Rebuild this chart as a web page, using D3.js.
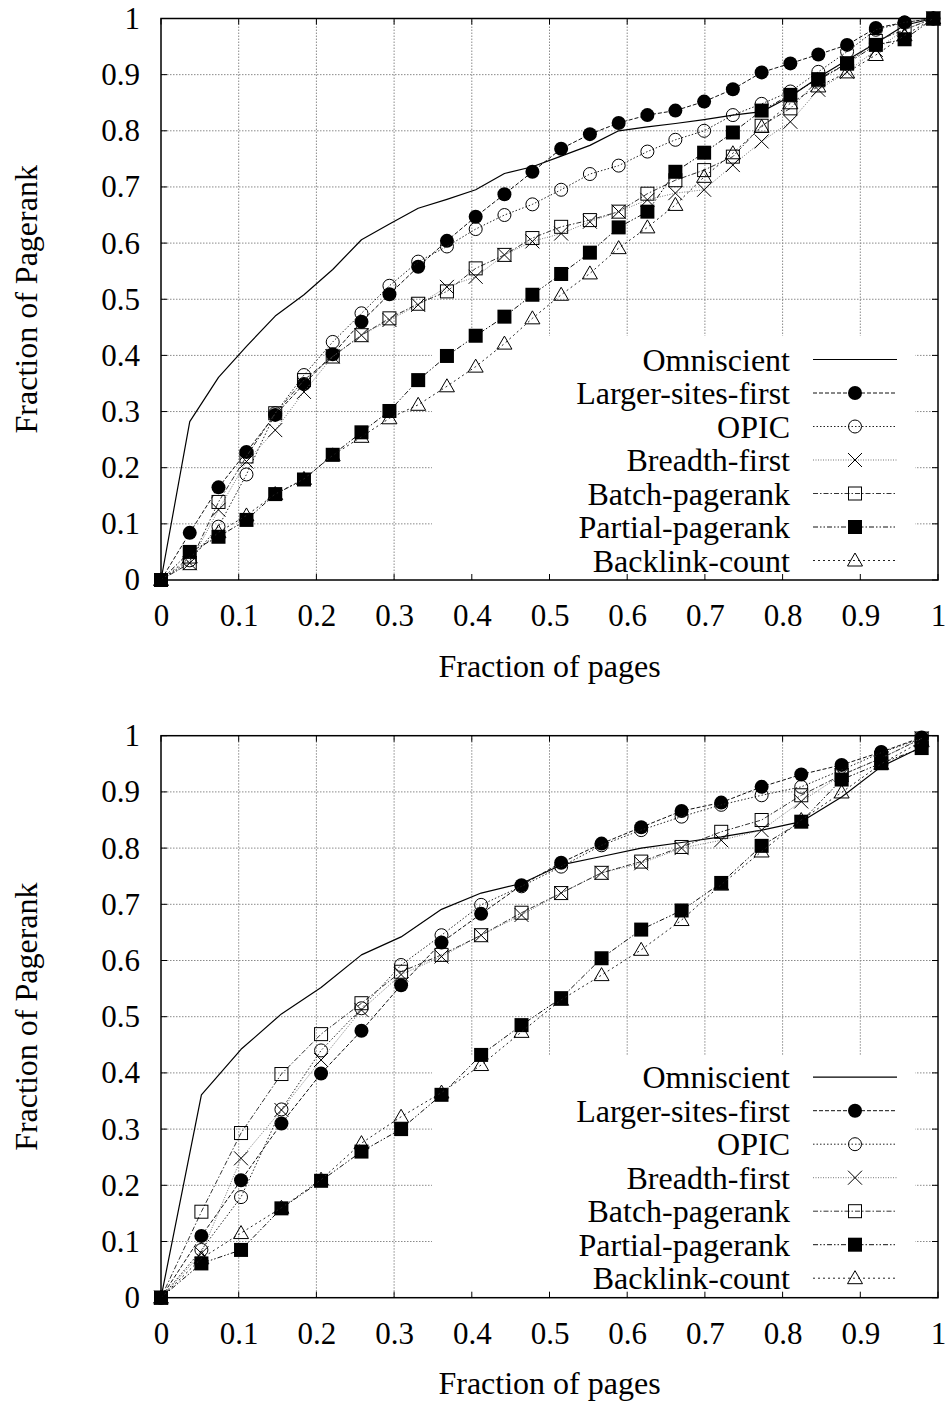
<!DOCTYPE html>
<html>
<head>
<meta charset="utf-8">
<script src="https://cdn.jsdelivr.net/npm/d3@7"></script>
<style>
  html, body { margin: 0; padding: 0; background: #fff; }
  svg { display: block; }
  text { font-family: "Liberation Serif", "Times New Roman", serif; fill: #000; }
</style>
</head>
<body>
<svg id="chart" width="951" height="1402"></svg>
<script>
// ---------------- data ----------------
const seriesNames = ["Omniscient", "Larger-sites-first", "OPIC", "Breadth-first",
                     "Batch-pagerank", "Partial-pagerank", "Backlink-count"];
const tickValues = [0, 0.1, 0.2, 0.3, 0.4, 0.5, 0.6, 0.7, 0.8, 0.9, 1];
const tickLabels = ["0", "0.1", "0.2", "0.3", "0.4", "0.5", "0.6", "0.7", "0.8", "0.9", "1"];
const xTitle = "Fraction of pages";
const yTitle = "Fraction of Pagerank";

// top chart
const topX = [0, 0.037, 0.074, 0.110, 0.147, 0.184, 0.221, 0.258, 0.294, 0.331, 0.368, 0.405, 0.442, 0.478,
              0.515, 0.552, 0.589, 0.626, 0.662, 0.699, 0.736, 0.773, 0.810, 0.846, 0.883, 0.920, 0.957, 0.994];
const topOmniscient = [0, .282, .361, .416, .470, .508, .553, .606, .634, .662, .678, .695, .724, .736,
                       .755, .774, .800, .807, .813, .820, .828, .834, .861, .895, .926, .956, .988, 1.0];
const topLarger = [0, .084, .165, .228, .294, .349, .402, .460, .509, .558, .604, .647, .687, .727,
                   .768, .794, .814, .828, .836, .852, .874, .904, .920, .936, .953, .983, .993, 1.0];
const topOpic = [0, .035, .095, .188, .297, .365, .424, .475, .524, .567, .594, .625, .650, .669,
                 .695, .723, .738, .763, .784, .800, .828, .848, .870, .905, .941, .980, .993, 1.0];
const topBreadth = [0, .030, .125, .211, .267, .335, .398, .436, .463, .490, .522, .540, .579, .603,
                    .617, .638, .656, .677, .689, .695, .739, .781, .816, .873, .905, .944, .980, 1.0];
const topBatch = [0, .030, .139, .220, .297, .356, .398, .436, .466, .492, .514, .555, .579, .609,
                  .629, .641, .656, .688, .712, .730, .754, .809, .840, .890, .920, .960, .980, 1.0];
const topPartial = [0, .050, .077, .107, .153, .179, .223, .263, .301, .356, .399, .435, .469, .508,
                    .545, .583, .628, .656, .727, .761, .797, .836, .864, .892, .920, .953, .963, 1.0];
const topBacklink = [0, .040, .085, .115, .153, .180, .222, .255, .288, .312, .345, .380, .421, .466,
                     .508, .546, .591, .628, .668, .718, .760, .807, .849, .879, .904, .935, .970, 1.0];

// bottom chart
const bottomX = [0, 0.052, 0.103, 0.155, 0.206, 0.258, 0.309, 0.361, 0.412, 0.464,
                 0.515, 0.567, 0.618, 0.670, 0.721, 0.773, 0.824, 0.876, 0.927, 0.979];
const botOmniscient = [0, .361, .442, .505, .552, .610, .642, .691, .720, .737,
                       .770, .785, .800, .810, .820, .832, .847, .891, .945, .980];
const botLarger = [0, .110, .209, .310, .399, .475, .556, .632, .683, .734,
                   .774, .808, .837, .866, .881, .909, .931, .948, .971, .997];
const botOpic = [0, .085, .179, .335, .440, .515, .592, .645, .699, .732,
                 .767, .805, .832, .856, .877, .894, .909, .939, .970, .995];
const botBreadth = [0, .079, .248, .334, .423, .512, .575, .607, .645, .681,
                    .720, .756, .773, .800, .814, .832, .883, .930, .960, .995];
const botBatch = [0, .153, .293, .398, .469, .524, .580, .610, .645, .685,
                  .720, .756, .776, .802, .829, .850, .894, .930, .960, .995];
const botPartial = [0, .061, .085, .159, .208, .260, .300, .361, .432, .485,
                    .533, .604, .655, .689, .738, .804, .847, .922, .951, .978];
const botBacklink = [0, .070, .115, .160, .210, .275, .322, .365, .414, .473,
                     .530, .574, .619, .672, .735, .794, .850, .899, .950, .990];

// ---------------- styles ----------------
const styles = [
  { marker: null,           dash: null,                 color: "#000", width: 1.2 },
  { marker: "circleFilled", dash: "4,2",                color: "#111", width: 1 },
  { marker: "circleOpen",   dash: "1.5,2",              color: "#222", width: 1 },
  { marker: "cross",        dash: "1,1.5",              color: "#777", width: 1 },
  { marker: "squareOpen",   dash: "5,2,1.5,2",          color: "#333", width: 1 },
  { marker: "squareFilled", dash: "5,2,1.5,2,1.5,2",    color: "#111", width: 1 },
  { marker: "triangleOpen", dash: "2,3",                color: "#222", width: 1 }
];

const panels = [
  { top: 18.5, bottom: 580, xs: topX,
    ys: [topOmniscient, topLarger, topOpic, topBreadth, topBatch, topPartial, topBacklink],
    legendTop: 336, titleY: 677 },
  { top: 735.7, bottom: 1297.7, xs: bottomX,
    ys: [botOmniscient, botLarger, botOpic, botBreadth, botBatch, botPartial, botBacklink],
    legendTop: 1056, titleY: 1394 }
];

const LEFT = 161, RIGHT = 938;
const svg = d3.select("#chart");

function drawMarker(g, type, cx, cy) {
  if (!type) return;
  if (type === "circleFilled") {
    g.append("circle").attr("cx", cx).attr("cy", cy).attr("r", 7).attr("fill", "#000");
  } else if (type === "circleOpen") {
    g.append("circle").attr("cx", cx).attr("cy", cy).attr("r", 6.5)
      .attr("fill", "none").attr("stroke", "#000").attr("stroke-width", 1);
  } else if (type === "cross") {
    g.append("path").attr("d", `M${cx-7},${cy-7}L${cx+7},${cy+7}M${cx-7},${cy+7}L${cx+7},${cy-7}`)
      .attr("stroke", "#000").attr("stroke-width", 1).attr("fill", "none");
  } else if (type === "squareOpen") {
    g.append("rect").attr("x", cx-6.5).attr("y", cy-6.5).attr("width", 13).attr("height", 13)
      .attr("fill", "none").attr("stroke", "#000").attr("stroke-width", 1);
  } else if (type === "squareFilled") {
    g.append("rect").attr("x", cx-7).attr("y", cy-7).attr("width", 14).attr("height", 14)
      .attr("fill", "#000");
  } else if (type === "triangleOpen") {
    g.append("path").attr("d", `M${cx},${cy-7.5}L${cx+7.5},${cy+5.5}L${cx-7.5},${cy+5.5}Z`)
      .attr("fill", "none").attr("stroke", "#000").attr("stroke-width", 1);
  }
}

panels.forEach(p => {
  const x = d3.scaleLinear().domain([0, 1]).range([LEFT, RIGHT]);
  const y = d3.scaleLinear().domain([0, 1]).range([p.bottom, p.top]);
  const g = svg.append("g");

  // grid
  const grid = g.append("g").attr("stroke", "#8a8a8a").attr("stroke-width", 1)
    .attr("stroke-dasharray", "1.5,1.5");
  tickValues.slice(1, -1).forEach(v => {
    grid.append("line").attr("x1", x(v)).attr("x2", x(v)).attr("y1", p.bottom).attr("y2", p.top);
    grid.append("line").attr("x1", LEFT).attr("x2", RIGHT).attr("y1", y(v)).attr("y2", y(v));
  });

  // legend background (opaque)
  g.append("rect").attr("x", 432).attr("y", p.legendTop)
    .attr("width", 915 - 432).attr("height", p.bottom - p.legendTop - 1).attr("fill", "#fff");

  // ticks (inward, all sides)
  const tk = g.append("g").attr("stroke", "#000").attr("stroke-width", 1);
  tickValues.forEach(v => {
    tk.append("line").attr("x1", x(v)).attr("x2", x(v)).attr("y1", p.bottom).attr("y2", p.bottom - 6);
    tk.append("line").attr("x1", x(v)).attr("x2", x(v)).attr("y1", p.top).attr("y2", p.top + 6);
    tk.append("line").attr("x1", LEFT).attr("x2", LEFT + 6).attr("y1", y(v)).attr("y2", y(v));
    tk.append("line").attr("x1", RIGHT).attr("x2", RIGHT - 6).attr("y1", y(v)).attr("y2", y(v));
  });

  // axes labels via d3 axes
  const xAxis = d3.axisBottom(x).tickValues(tickValues).tickSize(0).tickPadding(24)
    .tickFormat((d, i) => tickLabels[i]);
  const yAxis = d3.axisLeft(y).tickValues(tickValues).tickSize(0).tickPadding(21)
    .tickFormat((d, i) => tickLabels[i]);
  const gx = g.append("g").attr("transform", `translate(0,${p.bottom})`).call(xAxis);
  const gy = g.append("g").attr("transform", `translate(${LEFT},0)`).call(yAxis);
  [gx, gy].forEach(a => {
    a.select(".domain").remove();
    a.selectAll("text").attr("font-size", 31)
      .attr("font-family", "'Liberation Serif', 'Times New Roman', serif").attr("fill", "#000");
  });

  // series lines
  const line = d3.line().x((d, i) => x(p.xs[i])).y(d => y(d));
  p.ys.forEach((vals, k) => {
    const st = styles[k];
    const path = g.append("path").datum(vals).attr("d", line)
      .attr("fill", "none").attr("stroke", st.color).attr("stroke-width", st.width)
      .attr("stroke-linejoin", "round");
    if (st.dash) path.attr("stroke-dasharray", st.dash);
    if (st.marker) {
      const mg = g.append("g");
      vals.forEach((v, i) => drawMarker(mg, st.marker, x(p.xs[i]), y(v)));
    }
  });

  // legend
  const lg = g.append("g");
  seriesNames.forEach((name, k) => {
    const cy = p.bottom - 19.5 - 33.5 * (seriesNames.length - 1 - k);
    const st = styles[k];
    lg.append("text").attr("x", 790).attr("y", cy).attr("dy", "0.35em")
      .attr("text-anchor", "end").attr("font-size", 32).text(name);
    const l = lg.append("line").attr("x1", 813).attr("x2", 897).attr("y1", cy).attr("y2", cy)
      .attr("stroke", st.color).attr("stroke-width", st.width);
    if (st.dash) l.attr("stroke-dasharray", st.dash);
    drawMarker(lg, st.marker, 855, cy);
  });

  // frame
  g.append("rect").attr("x", LEFT).attr("y", p.top).attr("width", RIGHT - LEFT)
    .attr("height", p.bottom - p.top).attr("fill", "none").attr("stroke", "#000").attr("stroke-width", 1.5);

  // titles
  g.append("text").attr("x", (LEFT + RIGHT) / 2).attr("y", p.titleY).attr("text-anchor", "middle")
    .attr("font-size", 32).text(xTitle);
  g.append("text").attr("transform", `translate(37,${(p.top + p.bottom) / 2}) rotate(-90)`)
    .attr("text-anchor", "middle").attr("font-size", 32).text(yTitle);
});
</script>
</body>
</html>
